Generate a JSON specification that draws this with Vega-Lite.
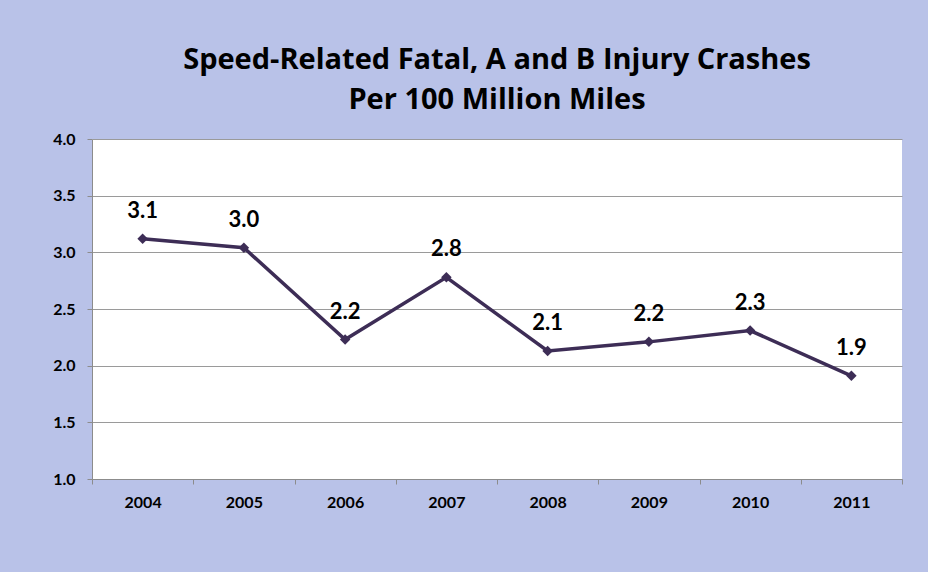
{
  "$schema": "https://vega.github.io/schema/vega-lite/v6.json",
  "width": 810,
  "height": 340,
  "autosize": {"type": "none"},
  "padding": {"left": 92, "top": 139, "right": 26, "bottom": 93},
  "background": "#b9c2e8",
  "title": {
    "text": ["Speed-Related Fatal, A and B Injury Crashes", "Per 100 Million Miles"],
    "font": "Open Sans",
    "fontSize": 29,
    "fontWeight": "bold",
    "color": "#000000",
    "lineHeight": 40,
    "anchor": "middle",
    "offset": 16
  },
  "data": {
    "values": [
      {"year": "2004", "rate": 3.12, "label": "3.1"},
      {"year": "2005", "rate": 3.04, "label": "3.0"},
      {"year": "2006", "rate": 2.23, "label": "2.2"},
      {"year": "2007", "rate": 2.78, "label": "2.8"},
      {"year": "2008", "rate": 2.13, "label": "2.1"},
      {"year": "2009", "rate": 2.21, "label": "2.2"},
      {"year": "2010", "rate": 2.31, "label": "2.3"},
      {"year": "2011", "rate": 1.91, "label": "1.9"}
    ]
  },
  "config": {
    "view": {"fill": "#ffffff", "stroke": null},
    "axis": {
      "labelFont": "Lato",
      "labelFontWeight": "bold",
      "labelFontSize": 16,
      "labelColor": "#000000",
      "domainColor": "#8c8c8c",
      "tickColor": "#8c8c8c",
      "gridColor": "#9a9a9a",
      "tickSize": 5,
      "title": null
    }
  },
  "encoding": {
    "x": {
      "field": "year",
      "type": "ordinal",
      "scale": {"type": "band", "paddingInner": 0, "paddingOuter": 0},
      "axis": {"labelAngle": 0, "labelPadding": 10, "tickBand": "extent", "grid": false}
    },
    "y": {
      "field": "rate",
      "type": "quantitative",
      "scale": {"domain": [1, 4], "nice": false, "zero": false},
      "axis": {"values": [1, 1.5, 2, 2.5, 3, 3.5, 4], "format": ".1f", "labelPadding": 12, "grid": true}
    }
  },
  "layer": [
    {
      "mark": {"type": "line", "color": "#3d2d56", "strokeWidth": 3.5, "point": {"shape": "diamond", "size": 110, "filled": true, "color": "#3d2d56", "opacity": 1}}
    },
    {
      "mark": {"type": "text", "font": "Lato", "fontSize": 22, "fontWeight": "bold", "color": "#000000", "dy": -28},
      "encoding": {"text": {"field": "label"}}
    }
  ]
}
